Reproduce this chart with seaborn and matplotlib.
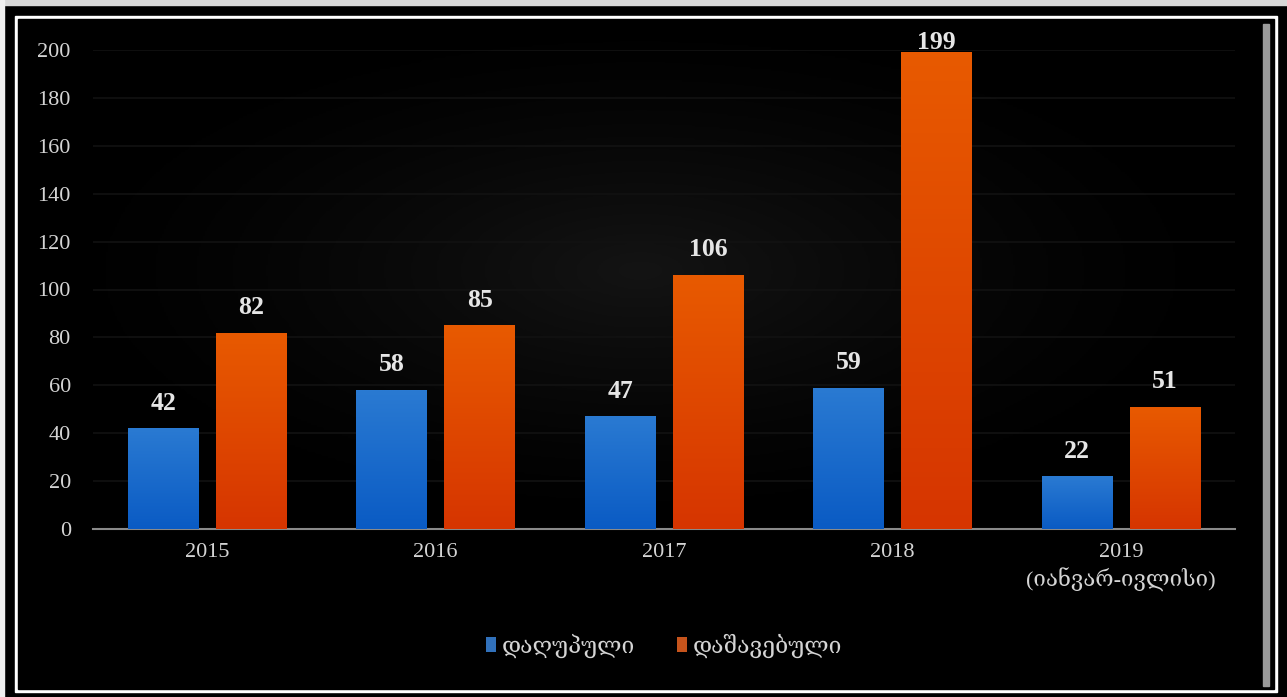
import matplotlib
matplotlib.use("Agg")
import matplotlib.pyplot as plt
import numpy as np
import pandas as pd
import seaborn as sns
from matplotlib.colors import LinearSegmentedColormap
from matplotlib.patches import Rectangle

years = ["2015", "2016", "2017", "2018", "2019\n(იანვარ-ივლისი)"]
killed = [42, 58, 47, 59, 22]
injured = [82, 85, 106, 199, 51]
series = ["დაღუპული", "დაშავებული"]
yticks = [0, 20, 40, 60, 80, 100, 120, 140, 160, 180, 200]

FONT = ["Liberation Serif", "DejaVu Serif"]
palette = {series[0]: "#1a6fd2", series[1]: "#e24a00"}
grads = {
    series[0]: ["#0a5bc4", "#2a7ad2"],
    series[1]: ["#d63500", "#e85a00"],
}

df = pd.DataFrame({
    "year": years * 2,
    "kind": [series[0]] * len(years) + [series[1]] * len(years),
    "value": killed + injured,
})

sns.set_theme(style="dark")
plt.rcParams["font.family"] = FONT

fig = plt.figure(figsize=(12.87, 6.97), dpi=100, facecolor="black")

# frame decoration
W, H = 1287, 697
def px_rect(x0, y0, x1, y1, color):
    fig.patches.append(Rectangle((x0 / W, 1 - y1 / H), (x1 - x0) / W, (y1 - y0) / H,
                                 transform=fig.transFigure, color=color, zorder=0))

px_rect(0, 0, W, 5, "#d8d8d8")
px_rect(0, 0, 4, H, "#f0f0f0")
px_rect(15, 16, 1277, 692, "white")
px_rect(18, 19, 1274, 689, "black")
px_rect(1263, 24, 1269, 686, "#9a9a9a")

# background glow
bg = fig.add_axes([19 / W, 1 - 688 / H, 1243 / W, 668 / H], zorder=0.5)
yy, xx = np.mgrid[-1:1:300j, -1:1:600j]
r = np.sqrt((xx / 1.0) ** 2 + ((yy + 0.25) / 0.8) ** 2)
glow = np.clip(1 - r, 0, 1) ** 1.5
bg.imshow(glow, cmap=LinearSegmentedColormap.from_list("g", ["#000000", "#141414"]),
          aspect="auto", extent=[0, 1, 0, 1], vmin=0, vmax=1)
bg.axis("off")

ax = fig.add_axes([93 / W, 1 - 529 / H, (1235 - 93) / W, (529 - 50) / H], zorder=1)
ax.set_facecolor("none")

sns.barplot(data=df, x="year", y="value", hue="kind", palette=palette,
            width=0.77, gap=0.2, ax=ax, legend=True, zorder=3,
            edgecolor="none", linewidth=0)

# gradient fill inside each bar, value labels above
for container, name in zip(ax.containers, series):
    cmap = LinearSegmentedColormap.from_list(name, grads[name])
    for bar in container:
        x0, y0 = bar.get_x(), bar.get_y()
        w, h = bar.get_width(), bar.get_height()
        img = ax.imshow(np.linspace(0, 1, 100).reshape(-1, 1), cmap=cmap, origin="lower",
                        extent=[x0, x0 + w, y0, y0 + h], aspect="auto", zorder=3.5)
        img.set_clip_path(bar)
        ax.text(x0 + w / 2, min(h + 10.5, 203.3), f"{int(h)}", ha="center", va="center",
                color="#e6e6e6", fontsize=18.5, fontweight="bold", family=FONT,
                clip_on=False, zorder=5)

ax.set_xlim(-0.5, 4.5)
ax.set_ylim(0, 200)
ax.set_yticks(yticks)
ax.grid(axis="y", color="#121212", linewidth=1.2, zorder=0)
ax.grid(axis="x", visible=False)
ax.set_xlabel("")
ax.set_ylabel("")
for side in ["top", "right", "left"]:
    ax.spines[side].set_visible(False)
ax.spines["bottom"].set_visible(True)
ax.spines["bottom"].set_color("#8a8a8a")
ax.spines["bottom"].set_linewidth(1.5)
ax.tick_params(axis="both", length=0, colors="#d4d4d4", labelsize=16)
ax.tick_params(axis="y", pad=16)
ax.tick_params(axis="x", pad=10)
for lbl in ax.get_xticklabels() + ax.get_yticklabels():
    lbl.set_family(FONT)
    lbl.set_linespacing(1.3)

leg = ax.legend(loc="upper center", bbox_to_anchor=(0.5, -0.175), ncol=2, frameon=False,
                handlelength=0.45, handleheight=0.6, handletextpad=0.25, columnspacing=1.8,
                prop={"family": FONT, "size": 16.5})
for t in leg.get_texts():
    t.set_color("#d4d4d4")
for hnd in leg.legend_handles:
    hnd.set_edgecolor("none")

fig.savefig("out.png", dpi=100, facecolor="black")
